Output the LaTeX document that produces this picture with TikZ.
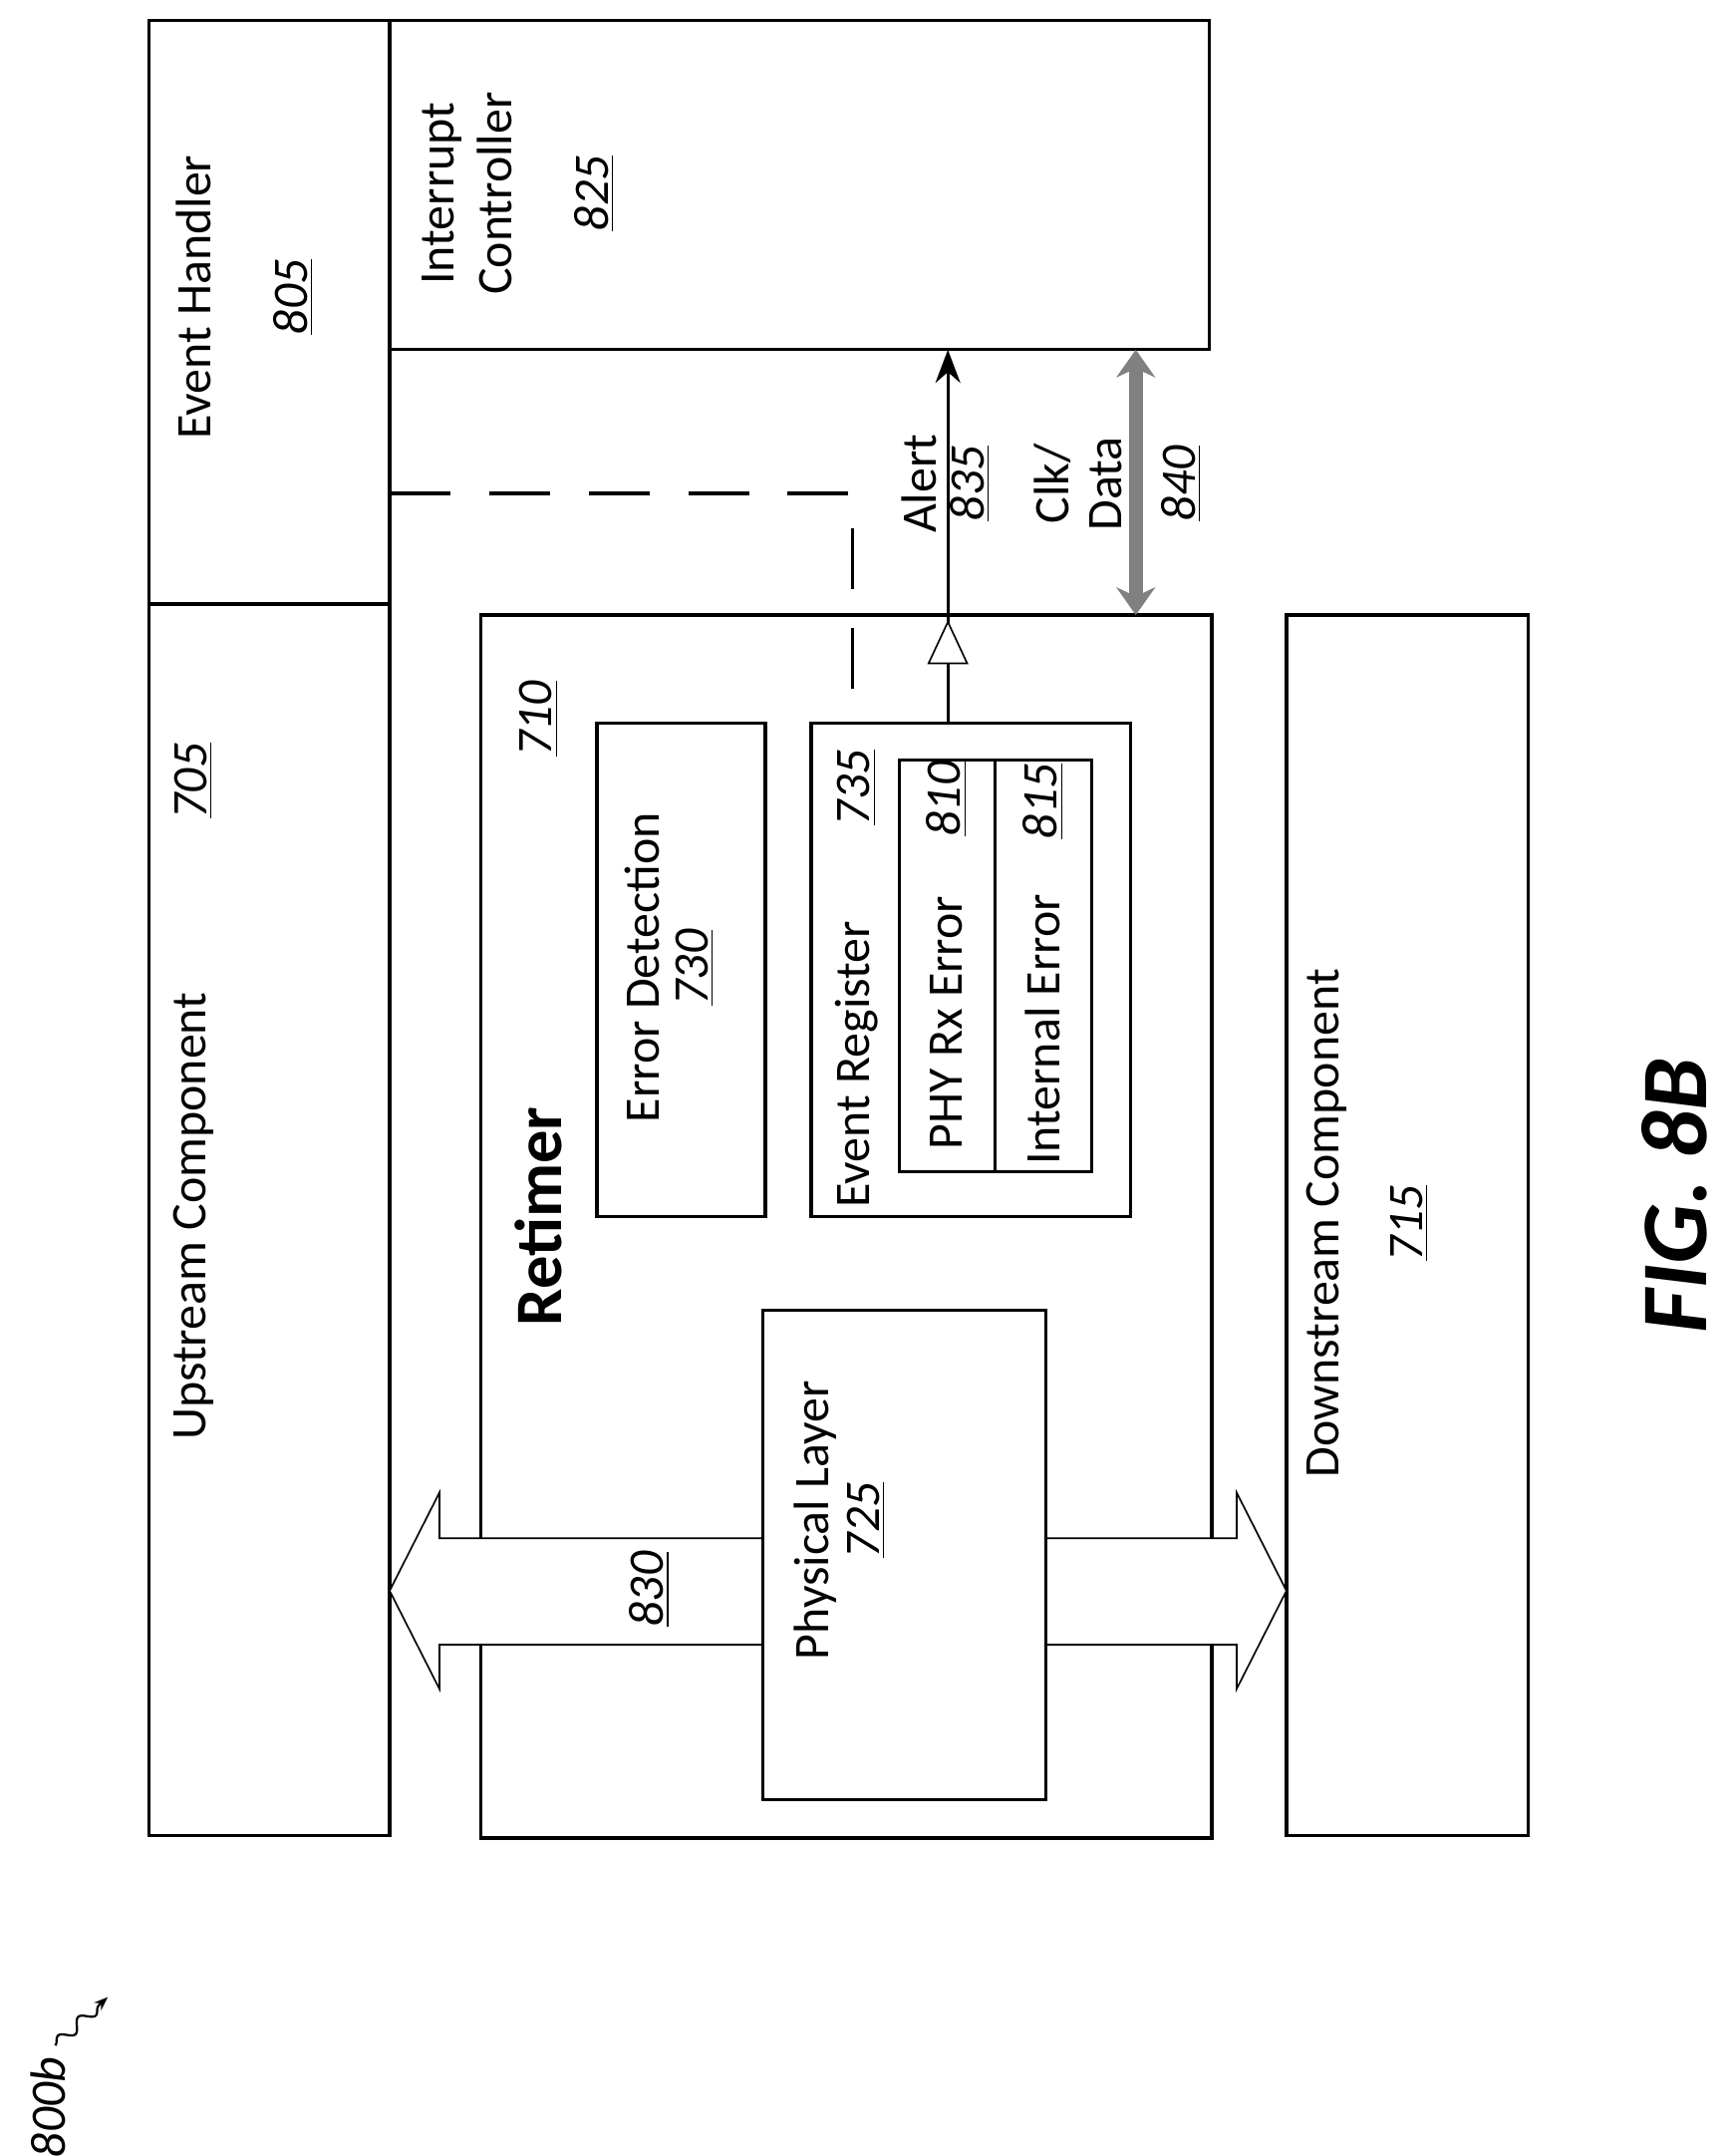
\documentclass[tikz,border=0pt]{standalone}
\usepackage{fontspec}
\setmainfont{Carlito}
\usetikzlibrary{arrows.meta,decorations.pathmorphing}
\newcommand{\refnum}[1]{\underline{\textit{#1}}}
\tikzset{
  blk/.style={draw,line width=1.2pt,fill=white},
  lbl/.style={rotate=90,font=\fontsize{18}{21}\selectfont,inner sep=0pt},
  num/.style={lbl,font=\fontsize{18}{21}\selectfont\itshape}
}
\begin{document}
\begin{tikzpicture}[x=0.5pt,y=-0.5pt]
  \useasboundingbox (0,0) rectangle (1250,1560);

  % outer blocks
  \draw[blk] (108,15) rectangle (282,437);
  \draw[blk] (108,437) rectangle (282,1328);
  \draw[blk] (282,15) rectangle (875,253);
  \draw[blk] (348,445) rectangle (877,1330);
  \draw[blk] (931,445) rectangle (1106,1328);

  % link 830
  \draw[line width=0.6pt,fill=white]
    (282,1151) -- (318,1080) -- (318,1113) -- (895,1113) -- (895,1080) -- (931,1151)
    -- (895,1222) -- (895,1190) -- (318,1190) -- (318,1222) -- cycle;

  % inner blocks
  \draw[blk] (432,523) rectangle (554,880);
  \draw[blk] (587,523) rectangle (818,880);
  \draw[blk] (651,550) rectangle (790,848);
  \draw[line width=1.2pt] (720,550) -- (720,848);
  \draw[blk] (552,948) rectangle (757,1302);

  % connectors
  \coordinate (er) at (686,523);
  \coordinate (ic) at (686,253);
  \draw[line width=1.2pt,-{Stealth[length=12pt,width=9pt]}] (er) -- (ic);
  \draw[line width=0.6pt,fill=white] (672,480) -- (686,450) -- (700,480) -- cycle;
  \draw[line width=1.2pt,dash pattern=on 22pt off 14pt] (282,357) -- (617,357) -- (617,523);
  \draw[line width=5pt,gray,{Stealth[length=10pt,width=14pt]}-{Stealth[length=10pt,width=14pt]}]
    (822,253) -- (822,445);

  % labels
  \node[lbl] at (140,215) {Event Handler};
  \node[num] at (212,215) {\refnum{805}};
  \node[lbl,align=center] at (338,140) {Interrupt\\Controller};
  \node[num] at (430,140) {\refnum{825}};
  \node[lbl] at (140,880) {Upstream Component};
  \node[num] at (140,565) {\refnum{705}};
  \node[lbl,font=\fontsize{24}{28}\selectfont\bfseries] at (390,880) {Retimer};
  \node[num] at (390,520) {\refnum{710}};
  \node[lbl] at (465,700) {Error Detection};
  \node[num] at (503,700) {\refnum{730}};
  \node[lbl] at (620,770) {Event Register};
  \node[num] at (620,570) {\refnum{735}};
  \node[lbl] at (685,740) {PHY Rx Error};
  \node[num] at (685,578) {\refnum{810}};
  \node[lbl] at (755,745) {Internal Error};
  \node[num] at (755,580) {\refnum{815}};
  \node[lbl] at (590,1100) {Physical Layer};
  \node[num] at (627,1100) {\refnum{725}};
  \node[num] at (470,1150) {\refnum{830}};
  \node[lbl] at (665,350) {Alert};
  \node[num] at (702,350) {\refnum{835}};
  \node[lbl] at (762,350) {Clk/};
  \node[lbl] at (800,350) {Data};
  \node[num] at (855,350) {\refnum{840}};
  \node[lbl] at (960,885) {Downstream Component};
  \node[num] at (1020,885) {\refnum{715}};
  \node[lbl,font=\fontsize{34}{40}\selectfont\bfseries\itshape] at (1212,865) {FIG. 8B};
  \node[num] (ref) at (35,1525) {800b};
  \draw[line width=0.8pt,decorate,decoration={snake,amplitude=2pt,segment length=10pt},-{Stealth[length=5pt]}]
    (40,1480) -- (78,1445);
\end{tikzpicture}
\end{document}
